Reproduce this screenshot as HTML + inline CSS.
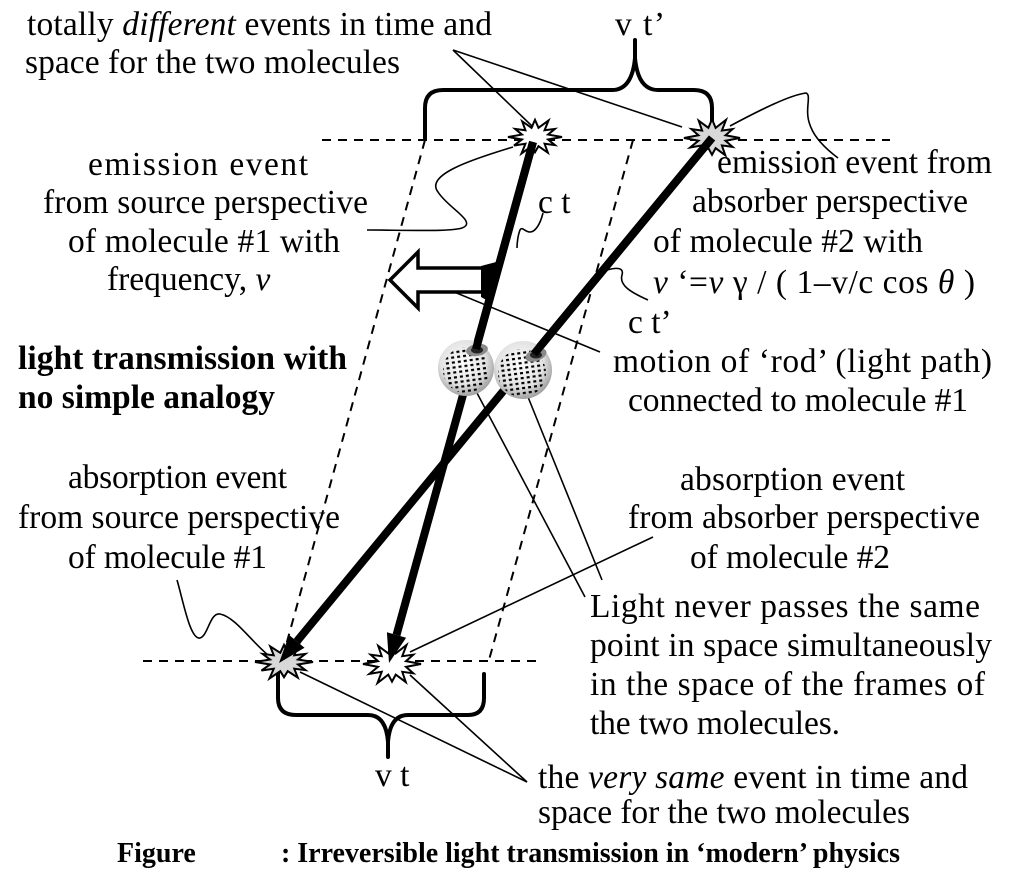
<!DOCTYPE html>
<html>
<head>
<meta charset="utf-8">
<style>
  html, body { margin: 0; padding: 0; background: #fff; }
  svg { display: block; }
  text { font-family: "Liberation Serif", "DejaVu Serif", serif; font-size: 33.5px; fill: #000; }
  .b { font-weight: bold; }
  .cap { font-weight: bold; font-size: 28px; }
</style>
</head>
<body>
<svg width="1024" height="884" viewBox="0 0 1024 884" xmlns="http://www.w3.org/2000/svg">
  <defs>
    <radialGradient id="sg" cx="0.45" cy="0.4" r="0.62">
      <stop offset="0" stop-color="#ffffff"/>
      <stop offset="0.65" stop-color="#e2e2e2"/>
      <stop offset="1" stop-color="#9a9a9a"/>
    </radialGradient>
    <pattern id="dots" width="6" height="5" patternUnits="userSpaceOnUse" patternTransform="rotate(-8)">
      <rect x="1" y="1" width="3" height="2.2" fill="#000"/>
    </pattern>
  </defs>
  <rect width="1024" height="884" fill="#fff"/>

  <!-- dashed lines -->
  <g stroke="#000" stroke-width="2" stroke-dasharray="9 7" fill="none">
    <line x1="322" y1="140" x2="890" y2="140"/>
    <line x1="143" y1="661" x2="537" y2="661"/>
    <line x1="425" y1="140" x2="282" y2="660"/>
    <line x1="633" y1="140" x2="489" y2="660"/>
  </g>

  <!-- braces -->
  <g stroke="#000" stroke-width="4" fill="none" stroke-linecap="round">
    <path d="M425,138 L425,108 Q425,90 443,90 L612,90 Q632,90 635,58 L635,40 M635,58 Q638,90 658,90 L694,90 Q712,90 712,108 L712,126"/>
    <path d="M278,672 L278,698 Q278,715 296,715 L368,715 Q386,715 388,742 L388,757 M388,742 Q390,715 408,715 L468,715 Q484,715 484,698 L484,674"/>
  </g>

  <!-- stars -->
  <g stroke="#000" stroke-width="2">
    <polygon vector-effect="non-scaling-stroke" fill="#fff" transform="translate(535,137) scale(27,19)" points="1,0 .483,.129 .736,.425 .354,.354 .475,.823 .129,.483 0,.8 -.129,.483 -.5,.866 -.354,.354 -.779,.45 -.483,.129 -1,0 -.483,-.129 -.736,-.425 -.354,-.354 -.475,-.823 -.129,-.483 0,-.9 .129,-.483 .5,-.866 .354,-.354 .736,-.425 .483,-.129"/>
    <polygon vector-effect="non-scaling-stroke" fill="#d8d8d8" transform="translate(712,138) scale(28,21)" points="1,0 .483,.129 .736,.425 .354,.354 .475,.823 .129,.483 0,.8 -.129,.483 -.5,.866 -.354,.354 -.779,.45 -.483,.129 -1,0 -.483,-.129 -.736,-.425 -.354,-.354 -.475,-.823 -.129,-.483 0,-.9 .129,-.483 .5,-.866 .354,-.354 .736,-.425 .483,-.129"/>
    <polygon vector-effect="non-scaling-stroke" fill="#d8d8d8" transform="translate(284,662) scale(29,19)" points="1,0 .483,.129 .736,.425 .354,.354 .475,.823 .129,.483 0,.8 -.129,.483 -.5,.866 -.354,.354 -.779,.45 -.483,.129 -1,0 -.483,-.129 -.736,-.425 -.354,-.354 -.475,-.823 -.129,-.483 0,-.9 .129,-.483 .5,-.866 .354,-.354 .736,-.425 .483,-.129"/>
    <polygon vector-effect="non-scaling-stroke" fill="#fff" transform="translate(392,664) scale(29,22)" points="1,0 .483,.129 .736,.425 .354,.354 .475,.823 .129,.483 0,.8 -.129,.483 -.5,.866 -.354,.354 -.779,.45 -.483,.129 -1,0 -.483,-.129 -.736,-.425 -.354,-.354 -.475,-.823 -.129,-.483 0,-.9 .129,-.483 .5,-.866 .354,-.354 .736,-.425 .483,-.129"/>
  </g>

  <!-- thin leader lines -->
  <g stroke="#000" stroke-width="1.6" fill="none">
    <line x1="453" y1="50" x2="533" y2="127"/>
    <line x1="453" y1="50" x2="682" y2="127"/>
    <line x1="527" y1="782" x2="300" y2="672"/>
    <line x1="527" y1="782" x2="410" y2="675"/>
    <line x1="653" y1="537" x2="410" y2="652"/>
    <line x1="477" y1="393" x2="585" y2="597"/>
    <line x1="528" y1="397" x2="602" y2="580"/>
    <line x1="425" y1="280" x2="600" y2="352"/>
    <path d="M513,147 C470,160 425,175 438,192 C448,208 478,222 462,228 C450,232 400,230 367,230"/>
    <path d="M730,126 C760,110 790,95 806,93 C812,95 804,110 810,125 C815,140 830,152 838,158"/>
    <path d="M543,213 C540,225 535,232 530,232 C525,232 522,226 520,230 C518,235 517,243 517,248"/>
    <path d="M600,273 C610,268 625,265 622,275 C619,285 630,292 648,300"/>
    <path d="M177,580 C183,600 190,640 200,638 C208,636 210,612 220,614 C235,617 250,640 268,655"/>
  </g>

  <!-- rods -->
  <g stroke="#000" stroke-width="8" stroke-linecap="butt">
    <line x1="533" y1="142" x2="396.5" y2="635"/>
    <line x1="712" y1="138" x2="296.8" y2="641.4"/>
  </g>
  <polygon points="389,663 406.1,637.7 386.9,632.3" fill="#000"/>
  <polygon points="279,663 304.5,647.8 289.1,635.0" fill="#000"/>

  <!-- hollow arrow -->
  <polygon points="390,280 418,252 418,268 483,268 483,292 418,292 418,308" fill="#fff" stroke="#000" stroke-width="3.5" stroke-linejoin="miter"/>
  <polygon points="481,266 500,261 490,302 481,297" fill="#000"/>

  <!-- spheres -->
  <circle cx="466" cy="368" r="28" fill="url(#sg)"/>
  <circle cx="466" cy="370" r="23" fill="url(#dots)"/>
  <ellipse cx="477" cy="350" rx="11" ry="6" fill="#8a8a8a" transform="rotate(-10 477 350)"/>
  <ellipse cx="477" cy="350" rx="6" ry="3.5" fill="#222"/>
  <circle cx="523" cy="370" r="29" fill="url(#sg)"/>
  <circle cx="522" cy="373" r="24" fill="url(#dots)"/>
  <ellipse cx="536" cy="355" rx="11" ry="6" fill="#8a8a8a" transform="rotate(-20 536 355)"/>
  <ellipse cx="536" cy="355" rx="6" ry="3.5" fill="#222"/>
  <g stroke="#000" stroke-width="8">
    <line x1="533" y1="142" x2="476" y2="349"/>
    <line x1="712" y1="138" x2="534" y2="354"/>
  </g>

  <!-- texts -->
  <text x="27" y="35" textLength="465">totally <tspan font-style="italic">different</tspan> events in time and</text>
  <text x="25" y="73" textLength="375">space for the two molecules</text>
  <text x="615" y="35" textLength="50">v t’</text>

  <text x="88" y="175" textLength="220">emission event</text>
  <text x="43" y="213" textLength="325">from source perspective</text>
  <text x="68" y="252" textLength="272">of molecule #1 with</text>
  <text x="107" y="290">frequency, <tspan font-style="italic">ν</tspan></text>
  <text class="b" x="18" y="369" textLength="329">light transmission with</text>
  <text class="b" x="18" y="408" textLength="257">no simple analogy</text>
  <text x="68" y="488" textLength="219">absorption event</text>
  <text x="18" y="528" textLength="322">from source perspective</text>
  <text x="68" y="568" textLength="199">of molecule #1</text>

  <text x="538" y="213">c t</text>

  <text x="717" y="173" textLength="275">emission event from</text>
  <text x="692" y="212" textLength="276">absorber perspective</text>
  <text x="653" y="252" textLength="270">of molecule #2 with</text>
  <text x="653" y="293" textLength="322"><tspan font-style="italic">ν</tspan> ‘=<tspan font-style="italic">ν</tspan> γ / ( 1–v/c cos <tspan font-style="italic">θ</tspan> )</text>
  <text x="628" y="333">c t’</text>
  <text x="613" y="372" textLength="379">motion of ‘rod’ (light path)</text>
  <text x="628" y="411" textLength="340">connected to molecule #1</text>
  <text x="680" y="490" textLength="225">absorption event</text>
  <text x="628" y="528" textLength="352">from absorber perspective</text>
  <text x="690" y="568" textLength="200">of molecule #2</text>
  <text x="590" y="617" textLength="390">Light never passes the same</text>
  <text x="590" y="656" textLength="402">point in space simultaneously</text>
  <text x="590" y="695" textLength="395">in the space of the frames of</text>
  <text x="590" y="734" textLength="250">the two molecules.</text>

  <text x="375" y="786">v t</text>
  <text x="538" y="788" textLength="430">the <tspan font-style="italic">very same</tspan> event in time and</text>
  <text x="538" y="823" textLength="372">space for the two molecules</text>

  <text class="cap" x="117" y="862">Figure</text>
  <text class="cap" x="281" y="862" textLength="619">: Irreversible light transmission in ‘modern’ physics</text>
</svg>
</body>
</html>
